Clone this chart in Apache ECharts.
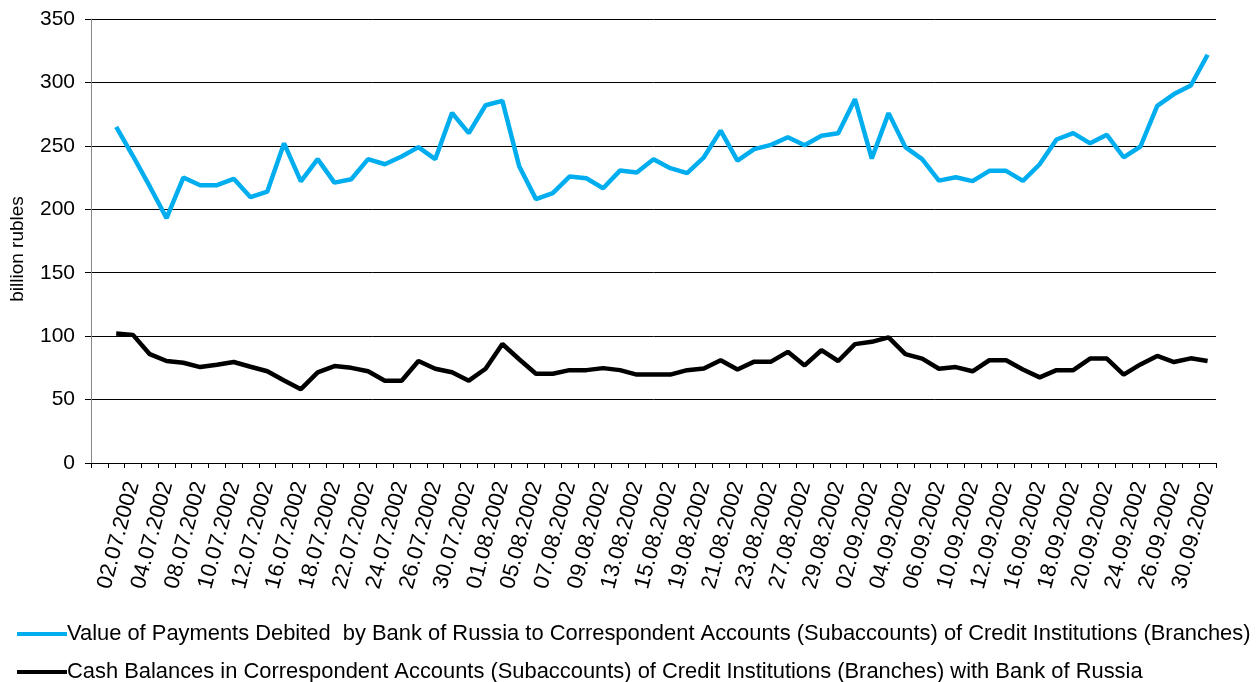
<!DOCTYPE html>
<html>
<head>
<meta charset="utf-8">
<script src="https://cdn.jsdelivr.net/npm/echarts@6/dist/echarts.min.js"></script>
<style>
  html, body { margin: 0; padding: 0; background: #fff; }
  #main { width: 1258px; height: 682px; }
</style>
</head>
<body>
<div id="main"></div>
<script>
// first category is an empty slot, as in the source chart
const dates = [
  '', '01.07.2002', '02.07.2002', '03.07.2002', '04.07.2002', '05.07.2002',
  '08.07.2002', '09.07.2002', '10.07.2002', '11.07.2002', '12.07.2002',
  '15.07.2002', '16.07.2002', '17.07.2002', '18.07.2002', '19.07.2002',
  '22.07.2002', '23.07.2002', '24.07.2002', '25.07.2002', '26.07.2002',
  '29.07.2002', '30.07.2002', '31.07.2002', '01.08.2002', '02.08.2002',
  '05.08.2002', '06.08.2002', '07.08.2002', '08.08.2002', '09.08.2002',
  '12.08.2002', '13.08.2002', '14.08.2002', '15.08.2002', '16.08.2002',
  '19.08.2002', '20.08.2002', '21.08.2002', '22.08.2002', '23.08.2002',
  '26.08.2002', '27.08.2002', '28.08.2002', '29.08.2002', '30.08.2002',
  '02.09.2002', '03.09.2002', '04.09.2002', '05.09.2002', '06.09.2002',
  '09.09.2002', '10.09.2002', '11.09.2002', '12.09.2002', '13.09.2002',
  '16.09.2002', '17.09.2002', '18.09.2002', '19.09.2002', '20.09.2002',
  '23.09.2002', '24.09.2002', '25.09.2002', '26.09.2002', '27.09.2002',
  '30.09.2002'
]

const paymentsDebited = [
  null,
  265, 242, 218, 193, 225, 219, 219, 224, 209.5, 214,
  252, 222, 239.5, 221, 223.7, 239.5, 235.5, 241.6, 249, 239.5,
  276, 260, 282, 285.5, 234, 208, 212.7, 225.8, 224.5, 216.6,
  230.5, 229, 239.5, 232.4, 228.5, 241, 262, 238.4, 247.4, 250.8,
  256.8, 250.5, 257.9, 260, 286.8, 240, 275.8, 249, 239.5, 222.6,
  225.3, 222.2, 230.3, 230.3, 222.4, 235.5, 255, 260, 252, 258.7,
  241, 249.5, 281.5, 290.8, 297.6, 321.8
]

const cashBalances = [
  null,
  102, 101, 85.8, 80.4, 79, 75.6, 77.5, 79.6, 75.9, 72.3,
  65, 58.2, 71.5, 76.4, 75, 72.3, 64.9, 64.9, 80.4, 74.3,
  71.5, 64.9, 74.3, 93.8, 81.8, 70.3, 70.3, 73.2, 73.2, 74.8,
  73.2, 69.7, 69.7, 69.7, 73.2, 74.5, 81, 73.7, 79.9, 79.9,
  87.6, 76.9, 88.9, 80.4, 93.7, 95.5, 99, 85.8, 82.3, 74.3,
  75.6, 72.3, 81, 81, 73.7, 67.5, 73.2, 73.2, 82.3, 82.3,
  69.7, 77.7, 84.4, 79.6, 82.5, 80.4
]

const yTicks = { min: 0, max: 350, interval: 50 }

const seriesNames = [
  'Value of Payments Debited  by Bank of Russia to Correspondent Accounts (Subaccounts) of Credit Institutions (Branches)',
  'Cash Balances in Correspondent Accounts (Subaccounts) of Credit Institutions (Branches) with Bank of Russia'
]

const font = '"Liberation Sans", Arial, Helvetica, sans-serif'

const chart = echarts.init(document.getElementById('main'))

// one legend per row, so each sits on its own line
const legendRow = (name, top) => ({
  left: 12,
  top: top,
  itemWidth: 50,
  itemHeight: 4,
  icon: 'rect',
  textStyle: { fontFamily: font, fontSize: 21.9, color: '#000', padding: [0, 0, 0, -5] },
  data: [name]
})

chart.setOption({
  animation: false,
  textStyle: { fontFamily: font, color: '#000' },
  grid: { left: 89, right: 42, top: 19, bottom: 219, containLabel: false },
  legend: [
    legendRow(seriesNames[0], 618),
    legendRow(seriesNames[1], 656)
  ],
  xAxis: {
    type: 'category',
    data: dates,
    boundaryGap: true,
    axisLine: { lineStyle: { color: '#000', width: 1 } },
    axisTick: { show: true, interval: 0, length: 5, lineStyle: { color: '#000' } },
    axisLabel: {
      interval: 1,
      rotate: 75,
      margin: 19,
      fontSize: 22,
      fontFamily: font,
      color: '#000'
    },
    splitLine: { show: false }
  },
  yAxis: {
    type: 'value',
    min: yTicks.min,
    max: yTicks.max,
    interval: yTicks.interval,
    name: 'billion rubles',
    nameLocation: 'middle',
    nameGap: 64,
    nameTextStyle: { fontSize: 19, fontFamily: font, color: '#000', padding: [0, 16, 0, 0] },
    axisLine: { show: true, lineStyle: { color: '#888', width: 1 } },
    axisTick: { show: true, length: 6, lineStyle: { color: '#000' } },
    axisLabel: { margin: 16, fontSize: 21, fontFamily: font, color: '#000' },
    splitLine: { show: true, lineStyle: { color: '#000', width: 1 } }
  },
  series: [
    {
      name: seriesNames[0],
      type: 'line',
      data: paymentsDebited,
      symbol: 'none',
      lineStyle: { color: '#00aeef', width: 4.5 },
      itemStyle: { color: '#00aeef' }
    },
    {
      name: seriesNames[1],
      type: 'line',
      data: cashBalances,
      symbol: 'none',
      lineStyle: { color: '#000', width: 4.5 },
      itemStyle: { color: '#000' }
    }
  ]
})
</script>
</body>
</html>
